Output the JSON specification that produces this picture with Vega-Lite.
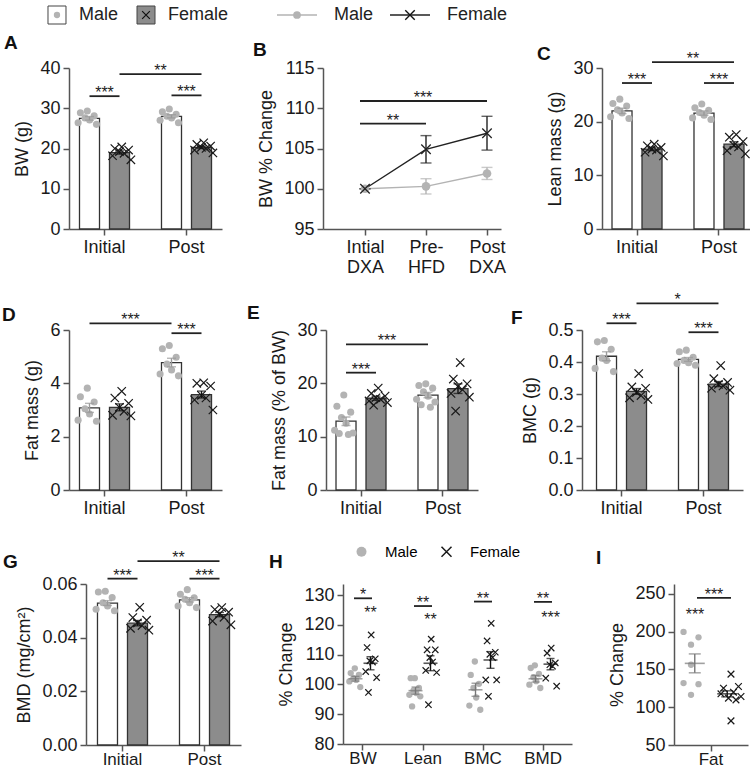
{
"$schema": "https://vega.github.io/schema/vega-lite/v6.json",
"padding": {"left": 1, "top": 4, "right": 0, "bottom": 0},
"background": "white",
"config": {
  "font": "Liberation Sans",
  "view": {"stroke": null},
  "axis": {"labelFontSize": 18, "titleFontSize": 18, "titleFontWeight": "normal", "labelColor": "#1a1a1a", "titleColor": "#1a1a1a", "domainColor": "#555555", "tickColor": "#555555", "domainWidth": 1.5, "tickWidth": 1.5, "tickSize": 6, "grid": false, "labelPadding": 3, "titlePadding": 8},
  "title": {"fontSize": 19, "fontWeight": "bold", "anchor": "start", "color": "#111111", "baseline": "alphabetic"}
},
"datasets": {
"bars": [
{"p":"A","t":"Initial","s":"Male","v":27.5,"e":0.45},
{"p":"A","t":"Initial","s":"Female","v":19.0,"e":0.4},
{"p":"A","t":"Post","s":"Male","v":28.0,"e":0.4},
{"p":"A","t":"Post","s":"Female","v":20.3,"e":0.3},
{"p":"C","t":"Initial","s":"Male","v":22.0,"e":0.5},
{"p":"C","t":"Initial","s":"Female","v":14.9,"e":0.3},
{"p":"C","t":"Post","s":"Male","v":21.6,"e":0.4},
{"p":"C","t":"Post","s":"Female","v":15.8,"e":0.45},
{"p":"D","t":"Initial","s":"Male","v":3.08,"e":0.17},
{"p":"D","t":"Initial","s":"Female","v":3.1,"e":0.13},
{"p":"D","t":"Post","s":"Male","v":4.78,"e":0.16},
{"p":"D","t":"Post","s":"Female","v":3.58,"e":0.13},
{"p":"E","t":"Initial","s":"Male","v":12.9,"e":0.8},
{"p":"E","t":"Initial","s":"Female","v":17.2,"e":0.4},
{"p":"E","t":"Post","s":"Male","v":17.8,"e":0.5},
{"p":"E","t":"Post","s":"Female","v":19.0,"e":0.9},
{"p":"F","t":"Initial","s":"Male","v":0.418,"e":0.014},
{"p":"F","t":"Initial","s":"Female","v":0.308,"e":0.009},
{"p":"F","t":"Post","s":"Male","v":0.408,"e":0.006},
{"p":"F","t":"Post","s":"Female","v":0.331,"e":0.008},
{"p":"G","t":"Initial","s":"Male","v":0.0529,"e":0.0009},
{"p":"G","t":"Initial","s":"Female","v":0.0454,"e":0.001},
{"p":"G","t":"Post","s":"Male","v":0.0541,"e":0.0008},
{"p":"G","t":"Post","s":"Female","v":0.0486,"e":0.0008},
{"p":"H","t":"BW","s":"Male","v":101.9,"e":0.8},
{"p":"H","t":"BW","s":"Female","v":107.1,"e":2.2},
{"p":"H","t":"Lean","s":"Male","v":97.9,"e":1.2},
{"p":"H","t":"Lean","s":"Female","v":107.1,"e":2.5},
{"p":"H","t":"BMC","s":"Male","v":98.2,"e":2.2},
{"p":"H","t":"BMC","s":"Female","v":108.2,"e":2.8},
{"p":"H","t":"BMD","s":"Male","v":101.9,"e":1.1},
{"p":"H","t":"BMD","s":"Female","v":106.8,"e":1.9},
{"p":"I","t":"Fat","s":"Male","v":158.0,"e":12.5},
{"p":"I","t":"Fat","s":"Female","v":117.7,"e":4.0}
],
"bl": [
{"t":"Intial DXA","s":"Male","v":100,"e":0},
{"t":"Pre-HFD","s":"Male","v":100.3,"e":0.95},
{"t":"Post DXA","s":"Male","v":101.9,"e":0.75},
{"t":"Intial DXA","s":"Female","v":100,"e":0},
{"t":"Pre-HFD","s":"Female","v":104.9,"e":1.7},
{"t":"Post DXA","s":"Female","v":106.9,"e":2.1}
],
"br": [
{"p":"A","k":"mf","t":"Initial","t2":"Initial","v":33.0,"lab":"***"},
{"p":"A","k":"mf","t":"Post","t2":"Post","v":33.2,"lab":"***"},
{"p":"A","k":"ff","t":"Initial","t2":"Post","v":38.5,"lab":"**"},
{"p":"C","k":"mf","t":"Initial","t2":"Initial","v":27.2,"lab":"***"},
{"p":"C","k":"mf","t":"Post","t2":"Post","v":27.2,"lab":"***"},
{"p":"C","k":"ff","t":"Initial","t2":"Post","v":31.1,"lab":"**"},
{"p":"D","k":"mm","t":"Initial","t2":"Post","v":6.25,"lab":"***"},
{"p":"D","k":"mf","t":"Post","t2":"Post","v":5.88,"lab":"***"},
{"p":"E","k":"mm","t":"Initial","t2":"Post","v":27.3,"lab":"***"},
{"p":"E","k":"mf","t":"Initial","t2":"Initial","v":22.0,"lab":"***"},
{"p":"F","k":"mf","t":"Initial","t2":"Initial","v":0.521,"lab":"***"},
{"p":"F","k":"ff","t":"Initial","t2":"Post","v":0.583,"lab":"*"},
{"p":"F","k":"mf","t":"Post","t2":"Post","v":0.493,"lab":"***"},
{"p":"G","k":"mf","t":"Initial","t2":"Initial","v":0.062,"lab":"***"},
{"p":"G","k":"ff","t":"Initial","t2":"Post","v":0.0685,"lab":"**"},
{"p":"G","k":"mf","t":"Post","t2":"Post","v":0.062,"lab":"***"},
{"p":"B","k":"b2","t":"Intial DXA","t2":"Pre-HFD","v":108.1,"lab":"**"},
{"p":"B","k":"b3","t":"Intial DXA","t2":"Post DXA","v":110.9,"lab":"***"},
{"p":"H","k":"mf","t":"BW","t2":"BW","v":128.9,"lab":"*"},
{"p":"H","k":"mf","t":"Lean","t2":"Lean","v":126.3,"lab":"**"},
{"p":"H","k":"mf","t":"BMC","t2":"BMC","v":127.8,"lab":"**"},
{"p":"H","k":"mf","t":"BMD","t2":"BMD","v":127.7,"lab":"**"},
{"p":"H","k":"fs","t":"BW","t2":"BW","v":125.3,"lab":"**"},
{"p":"H","k":"fs","t":"Lean","t2":"Lean","v":123.0,"lab":"**"},
{"p":"H","k":"fs","t":"BMD","t2":"BMD","v":123.6,"lab":"***"},
{"p":"I","k":"mf","t":"Fat","t2":"Fat","v":244.7,"lab":"***"},
{"p":"I","k":"ms","t":"Fat","t2":"Fat","v":227,"lab":"***"}
],
"pts": [
{"p":"A","t":"Initial","s":"Male","k":"M5","v":29.3},{"p":"A","t":"Initial","s":"Male","k":"M2","v":28.9},{"p":"A","t":"Initial","s":"Male","k":"M8","v":28.1},{"p":"A","t":"Initial","s":"Male","k":"M4","v":27.6},{"p":"A","t":"Initial","s":"Male","k":"M6","v":27.1},{"p":"A","t":"Initial","s":"Male","k":"M1","v":26.4},{"p":"A","t":"Initial","s":"Male","k":"M9","v":26.0},
{"p":"A","t":"Initial","s":"Female","k":"F5","v":20.4},{"p":"A","t":"Initial","s":"Female","k":"F2","v":20.0},{"p":"A","t":"Initial","s":"Female","k":"F8","v":19.6},{"p":"A","t":"Initial","s":"Female","k":"F4","v":19.2},{"p":"A","t":"Initial","s":"Female","k":"F6","v":18.8},{"p":"A","t":"Initial","s":"Female","k":"F1","v":18.2},{"p":"A","t":"Initial","s":"Female","k":"F9","v":17.2},
{"p":"A","t":"Post","s":"Male","k":"M5","v":29.8},{"p":"A","t":"Post","s":"Male","k":"M2","v":29.1},{"p":"A","t":"Post","s":"Male","k":"M8","v":28.5},{"p":"A","t":"Post","s":"Male","k":"M4","v":28.0},{"p":"A","t":"Post","s":"Male","k":"M6","v":27.6},{"p":"A","t":"Post","s":"Male","k":"M1","v":27.0},{"p":"A","t":"Post","s":"Male","k":"M9","v":26.4},
{"p":"A","t":"Post","s":"Female","k":"F5","v":21.4},{"p":"A","t":"Post","s":"Female","k":"F2","v":21.0},{"p":"A","t":"Post","s":"Female","k":"F8","v":20.6},{"p":"A","t":"Post","s":"Female","k":"F4","v":20.3},{"p":"A","t":"Post","s":"Female","k":"F6","v":20.0},{"p":"A","t":"Post","s":"Female","k":"F1","v":19.6},{"p":"A","t":"Post","s":"Female","k":"F9","v":18.9},
{"p":"C","t":"Initial","s":"Male","k":"M5","v":24.2},{"p":"C","t":"Initial","s":"Male","k":"M2","v":23.4},{"p":"C","t":"Initial","s":"Male","k":"M8","v":22.9},{"p":"C","t":"Initial","s":"Male","k":"M4","v":22.2},{"p":"C","t":"Initial","s":"Male","k":"M6","v":21.6},{"p":"C","t":"Initial","s":"Male","k":"M1","v":20.9},{"p":"C","t":"Initial","s":"Male","k":"M9","v":20.6},
{"p":"C","t":"Initial","s":"Female","k":"F5","v":15.8},{"p":"C","t":"Initial","s":"Female","k":"F2","v":15.5},{"p":"C","t":"Initial","s":"Female","k":"F8","v":15.2},{"p":"C","t":"Initial","s":"Female","k":"F4","v":14.9},{"p":"C","t":"Initial","s":"Female","k":"F6","v":14.7},{"p":"C","t":"Initial","s":"Female","k":"F1","v":14.3},{"p":"C","t":"Initial","s":"Female","k":"F9","v":13.6},
{"p":"C","t":"Post","s":"Male","k":"M5","v":23.3},{"p":"C","t":"Post","s":"Male","k":"M2","v":22.6},{"p":"C","t":"Post","s":"Male","k":"M8","v":22.1},{"p":"C","t":"Post","s":"Male","k":"M4","v":21.7},{"p":"C","t":"Post","s":"Male","k":"M6","v":21.2},{"p":"C","t":"Post","s":"Male","k":"M1","v":20.7},{"p":"C","t":"Post","s":"Male","k":"M9","v":20.4},
{"p":"C","t":"Post","s":"Female","k":"F5","v":17.6},{"p":"C","t":"Post","s":"Female","k":"F2","v":17.1},{"p":"C","t":"Post","s":"Female","k":"F8","v":16.3},{"p":"C","t":"Post","s":"Female","k":"F4","v":15.6},{"p":"C","t":"Post","s":"Female","k":"F6","v":15.3},{"p":"C","t":"Post","s":"Female","k":"F1","v":14.6},{"p":"C","t":"Post","s":"Female","k":"F9","v":14.0},
{"p":"D","t":"Initial","s":"Male","k":"M5","v":3.82},{"p":"D","t":"Initial","s":"Male","k":"M2","v":3.5},{"p":"D","t":"Initial","s":"Male","k":"M8","v":3.3},{"p":"D","t":"Initial","s":"Male","k":"M4","v":3.05},{"p":"D","t":"Initial","s":"Male","k":"M6","v":2.85},{"p":"D","t":"Initial","s":"Male","k":"M1","v":2.62},{"p":"D","t":"Initial","s":"Male","k":"M9","v":2.58},
{"p":"D","t":"Initial","s":"Female","k":"F5","v":3.7},{"p":"D","t":"Initial","s":"Female","k":"F2","v":3.45},{"p":"D","t":"Initial","s":"Female","k":"F8","v":3.25},{"p":"D","t":"Initial","s":"Female","k":"F4","v":3.1},{"p":"D","t":"Initial","s":"Female","k":"F6","v":2.95},{"p":"D","t":"Initial","s":"Female","k":"F1","v":2.8},{"p":"D","t":"Initial","s":"Female","k":"F9","v":2.78},
{"p":"D","t":"Post","s":"Male","k":"M5","v":5.42},{"p":"D","t":"Post","s":"Male","k":"M2","v":5.3},{"p":"D","t":"Post","s":"Male","k":"M8","v":4.98},{"p":"D","t":"Post","s":"Male","k":"M4","v":4.72},{"p":"D","t":"Post","s":"Male","k":"M6","v":4.5},{"p":"D","t":"Post","s":"Male","k":"M1","v":4.35},{"p":"D","t":"Post","s":"Male","k":"M9","v":4.28},
{"p":"D","t":"Post","s":"Female","k":"F5","v":4.02},{"p":"D","t":"Post","s":"Female","k":"F2","v":4.0},{"p":"D","t":"Post","s":"Female","k":"F8","v":3.9},{"p":"D","t":"Post","s":"Female","k":"F4","v":3.55},{"p":"D","t":"Post","s":"Female","k":"F6","v":3.45},{"p":"D","t":"Post","s":"Female","k":"F1","v":3.38},{"p":"D","t":"Post","s":"Female","k":"F9","v":3.0},
{"p":"E","t":"Initial","s":"Male","k":"M5","v":17.8},{"p":"E","t":"Initial","s":"Male","k":"M2","v":15.7},{"p":"E","t":"Initial","s":"Male","k":"M8","v":14.6},{"p":"E","t":"Initial","s":"Male","k":"M4","v":13.6},{"p":"E","t":"Initial","s":"Male","k":"M6","v":12.5},{"p":"E","t":"Initial","s":"Male","k":"M1","v":11.2},{"p":"E","t":"Initial","s":"Male","k":"M9","v":10.7},{"p":"E","t":"Initial","s":"Male","k":"M3","v":10.6},{"p":"E","t":"Initial","s":"Male","k":"M7","v":10.4},
{"p":"E","t":"Initial","s":"Female","k":"F5","v":19.1},{"p":"E","t":"Initial","s":"Female","k":"F2","v":18.1},{"p":"E","t":"Initial","s":"Female","k":"F8","v":17.6},{"p":"E","t":"Initial","s":"Female","k":"F4","v":17.3},{"p":"E","t":"Initial","s":"Female","k":"F6","v":17.0},{"p":"E","t":"Initial","s":"Female","k":"F1","v":16.7},{"p":"E","t":"Initial","s":"Female","k":"F9","v":16.4},{"p":"E","t":"Initial","s":"Female","k":"F3","v":15.9},
{"p":"E","t":"Post","s":"Male","k":"M5","v":19.9},{"p":"E","t":"Post","s":"Male","k":"M2","v":19.6},{"p":"E","t":"Post","s":"Male","k":"M8","v":19.1},{"p":"E","t":"Post","s":"Male","k":"M4","v":18.4},{"p":"E","t":"Post","s":"Male","k":"M6","v":17.6},{"p":"E","t":"Post","s":"Male","k":"M1","v":17.0},{"p":"E","t":"Post","s":"Male","k":"M9","v":16.5},{"p":"E","t":"Post","s":"Male","k":"M3","v":16.0},{"p":"E","t":"Post","s":"Male","k":"M7","v":15.5},
{"p":"E","t":"Post","s":"Female","k":"F5","v":23.9},{"p":"E","t":"Post","s":"Female","k":"F2","v":20.8},{"p":"E","t":"Post","s":"Female","k":"F8","v":19.9},{"p":"E","t":"Post","s":"Female","k":"F4","v":19.4},{"p":"E","t":"Post","s":"Female","k":"F6","v":18.8},{"p":"E","t":"Post","s":"Female","k":"F1","v":18.1},{"p":"E","t":"Post","s":"Female","k":"F9","v":17.4},{"p":"E","t":"Post","s":"Female","k":"F3","v":14.8},
{"p":"F","t":"Initial","s":"Male","k":"M5","v":0.467},{"p":"F","t":"Initial","s":"Male","k":"M2","v":0.463},{"p":"F","t":"Initial","s":"Male","k":"M8","v":0.440},{"p":"F","t":"Initial","s":"Male","k":"M4","v":0.412},{"p":"F","t":"Initial","s":"Male","k":"M6","v":0.405},{"p":"F","t":"Initial","s":"Male","k":"M1","v":0.380},{"p":"F","t":"Initial","s":"Male","k":"M9","v":0.370},
{"p":"F","t":"Initial","s":"Female","k":"F5","v":0.364},{"p":"F","t":"Initial","s":"Female","k":"F2","v":0.322},{"p":"F","t":"Initial","s":"Female","k":"F8","v":0.318},{"p":"F","t":"Initial","s":"Female","k":"F4","v":0.305},{"p":"F","t":"Initial","s":"Female","k":"F6","v":0.295},{"p":"F","t":"Initial","s":"Female","k":"F1","v":0.288},{"p":"F","t":"Initial","s":"Female","k":"F9","v":0.283},
{"p":"F","t":"Post","s":"Male","k":"M5","v":0.437},{"p":"F","t":"Post","s":"Male","k":"M2","v":0.432},{"p":"F","t":"Post","s":"Male","k":"M8","v":0.415},{"p":"F","t":"Post","s":"Male","k":"M4","v":0.405},{"p":"F","t":"Post","s":"Male","k":"M6","v":0.398},{"p":"F","t":"Post","s":"Male","k":"M1","v":0.395},{"p":"F","t":"Post","s":"Male","k":"M9","v":0.390},
{"p":"F","t":"Post","s":"Female","k":"F5","v":0.389},{"p":"F","t":"Post","s":"Female","k":"F2","v":0.348},{"p":"F","t":"Post","s":"Female","k":"F8","v":0.336},{"p":"F","t":"Post","s":"Female","k":"F4","v":0.330},{"p":"F","t":"Post","s":"Female","k":"F6","v":0.325},{"p":"F","t":"Post","s":"Female","k":"F1","v":0.318},{"p":"F","t":"Post","s":"Female","k":"F9","v":0.312},
{"p":"G","t":"Initial","s":"Male","k":"M5","v":0.0573},{"p":"G","t":"Initial","s":"Male","k":"M2","v":0.0570},{"p":"G","t":"Initial","s":"Male","k":"M8","v":0.0550},{"p":"G","t":"Initial","s":"Male","k":"M4","v":0.0530},{"p":"G","t":"Initial","s":"Male","k":"M6","v":0.0518},{"p":"G","t":"Initial","s":"Male","k":"M1","v":0.0506},{"p":"G","t":"Initial","s":"Male","k":"M9","v":0.0500},
{"p":"G","t":"Initial","s":"Female","k":"F5","v":0.0513},{"p":"G","t":"Initial","s":"Female","k":"F2","v":0.0475},{"p":"G","t":"Initial","s":"Female","k":"F8","v":0.0465},{"p":"G","t":"Initial","s":"Female","k":"F4","v":0.0455},{"p":"G","t":"Initial","s":"Female","k":"F6","v":0.0445},{"p":"G","t":"Initial","s":"Female","k":"F1","v":0.0435},{"p":"G","t":"Initial","s":"Female","k":"F9","v":0.0428},
{"p":"G","t":"Post","s":"Male","k":"M5","v":0.0579},{"p":"G","t":"Post","s":"Male","k":"M2","v":0.0562},{"p":"G","t":"Post","s":"Male","k":"M8","v":0.0549},{"p":"G","t":"Post","s":"Male","k":"M4","v":0.0543},{"p":"G","t":"Post","s":"Male","k":"M6","v":0.0530},{"p":"G","t":"Post","s":"Male","k":"M1","v":0.0518},{"p":"G","t":"Post","s":"Male","k":"M9","v":0.0512},
{"p":"G","t":"Post","s":"Female","k":"F5","v":0.0512},{"p":"G","t":"Post","s":"Female","k":"F2","v":0.0505},{"p":"G","t":"Post","s":"Female","k":"F8","v":0.0495},{"p":"G","t":"Post","s":"Female","k":"F4","v":0.0488},{"p":"G","t":"Post","s":"Female","k":"F6","v":0.0476},{"p":"G","t":"Post","s":"Female","k":"F1","v":0.0462},{"p":"G","t":"Post","s":"Female","k":"F9","v":0.0448},
{"p":"H","t":"BW","s":"Male","k":"M5","v":105.4},{"p":"H","t":"BW","s":"Male","k":"M2","v":103.8},{"p":"H","t":"BW","s":"Male","k":"M8","v":103.2},{"p":"H","t":"BW","s":"Male","k":"M4","v":102.1},{"p":"H","t":"BW","s":"Male","k":"M6","v":101.5},{"p":"H","t":"BW","s":"Male","k":"M1","v":101.0},{"p":"H","t":"BW","s":"Male","k":"M9","v":99.1},
{"p":"H","t":"BW","s":"Female","k":"F5","v":116.6},{"p":"H","t":"BW","s":"Female","k":"F2","v":112.4},{"p":"H","t":"BW","s":"Female","k":"F8","v":108.6},{"p":"H","t":"BW","s":"Female","k":"F4","v":107.9},{"p":"H","t":"BW","s":"Female","k":"F6","v":107.5},{"p":"H","t":"BW","s":"Female","k":"F1","v":104.3},{"p":"H","t":"BW","s":"Female","k":"F9","v":102.3},{"p":"H","t":"BW","s":"Female","k":"F3","v":97.3},
{"p":"H","t":"Lean","s":"Male","k":"M5","v":102.1},{"p":"H","t":"Lean","s":"Male","k":"M2","v":102.1},{"p":"H","t":"Lean","s":"Male","k":"M8","v":98.8},{"p":"H","t":"Lean","s":"Male","k":"M4","v":97.9},{"p":"H","t":"Lean","s":"Male","k":"M6","v":97.1},{"p":"H","t":"Lean","s":"Male","k":"M1","v":96.5},{"p":"H","t":"Lean","s":"Male","k":"M9","v":96.0},{"p":"H","t":"Lean","s":"Male","k":"M3","v":92.6},
{"p":"H","t":"Lean","s":"Female","k":"F5","v":115.2},{"p":"H","t":"Lean","s":"Female","k":"F2","v":111.6},{"p":"H","t":"Lean","s":"Female","k":"F8","v":111.6},{"p":"H","t":"Lean","s":"Female","k":"F4","v":109.0},{"p":"H","t":"Lean","s":"Female","k":"F6","v":107.5},{"p":"H","t":"Lean","s":"Female","k":"F1","v":104.7},{"p":"H","t":"Lean","s":"Female","k":"F9","v":104.0},{"p":"H","t":"Lean","s":"Female","k":"F3","v":93.2},
{"p":"H","t":"BMC","s":"Male","k":"M5","v":107.7},{"p":"H","t":"BMC","s":"Male","k":"M2","v":103.2},{"p":"H","t":"BMC","s":"Male","k":"M8","v":100.2},{"p":"H","t":"BMC","s":"Male","k":"M4","v":98.8},{"p":"H","t":"BMC","s":"Male","k":"M6","v":95.6},{"p":"H","t":"BMC","s":"Male","k":"M1","v":92.9},{"p":"H","t":"BMC","s":"Male","k":"M9","v":91.5},
{"p":"H","t":"BMC","s":"Female","k":"F5","v":120.5},{"p":"H","t":"BMC","s":"Female","k":"F2","v":114.6},{"p":"H","t":"BMC","s":"Female","k":"F8","v":110.8},{"p":"H","t":"BMC","s":"Female","k":"F4","v":110.1},{"p":"H","t":"BMC","s":"Female","k":"F6","v":109.0},{"p":"H","t":"BMC","s":"Female","k":"F1","v":101.5},{"p":"H","t":"BMC","s":"Female","k":"F9","v":101.5},{"p":"H","t":"BMC","s":"Female","k":"F3","v":96.0},
{"p":"H","t":"BMD","s":"Male","k":"M5","v":106.4},{"p":"H","t":"BMD","s":"Male","k":"M2","v":105.5},{"p":"H","t":"BMD","s":"Male","k":"M8","v":103.5},{"p":"H","t":"BMD","s":"Male","k":"M4","v":102.4},{"p":"H","t":"BMD","s":"Male","k":"M6","v":101.1},{"p":"H","t":"BMD","s":"Male","k":"M1","v":99.9},{"p":"H","t":"BMD","s":"Male","k":"M9","v":98.8},
{"p":"H","t":"BMD","s":"Female","k":"F5","v":112.2},{"p":"H","t":"BMD","s":"Female","k":"F2","v":110.5},{"p":"H","t":"BMD","s":"Female","k":"F8","v":107.2},{"p":"H","t":"BMD","s":"Female","k":"F4","v":106.6},{"p":"H","t":"BMD","s":"Female","k":"F6","v":106.1},{"p":"H","t":"BMD","s":"Female","k":"F1","v":102.1},{"p":"H","t":"BMD","s":"Female","k":"F9","v":99.4},
{"p":"I","t":"Fat","s":"Male","k":"M2","v":199.6},{"p":"I","t":"Fat","s":"Male","k":"M8","v":192.5},{"p":"I","t":"Fat","s":"Male","k":"M5","v":182.7},{"p":"I","t":"Fat","s":"Male","k":"M5","v":156.2},{"p":"I","t":"Fat","s":"Male","k":"M2","v":131.9},{"p":"I","t":"Fat","s":"Male","k":"M8","v":130.5},{"p":"I","t":"Fat","s":"Male","k":"M5","v":116.4},
{"p":"I","t":"Fat","s":"Female","k":"F5","v":143.8},{"p":"I","t":"Fat","s":"Female","k":"F8","v":127.4},{"p":"I","t":"Fat","s":"Female","k":"F2","v":125.2},{"p":"I","t":"Fat","s":"Female","k":"F6","v":119.9},{"p":"I","t":"Fat","s":"Female","k":"F1","v":117.7},{"p":"I","t":"Fat","s":"Female","k":"F9","v":114.2},{"p":"I","t":"Fat","s":"Female","k":"F4","v":112.0},{"p":"I","t":"Fat","s":"Female","k":"F7","v":109.7},{"p":"I","t":"Fat","s":"Female","k":"F5","v":81.9}
]
},
"resolve": {"scale": {"color": "independent", "fill": "independent", "stroke": "independent", "shape": "independent", "xOffset": "independent"}},
"spacing": 8,
"vconcat": [
{
 "resolve": {"scale": {"color": "independent", "fill": "independent", "stroke": "independent", "shape": "independent", "xOffset": "independent"}},
 "hconcat": [
  {
   "width": 175, "height": 20,
   "data": {"values": [{"s":"Male"},{"s":"Female"}]},
   "encoding": {"x": {"field":"s","type":"nominal","scale":{"type":"point","domain":["Male","Female"],"padding":0.483},"axis":null}},
   "layer": [
    {"mark":{"type":"point","shape":"square","filled":true,"size":324,"stroke":"#444444","strokeWidth":1,"opacity":1},"encoding":{"fill":{"field":"s","type":"nominal","scale":{"domain":["Male","Female"],"range":["#ffffff","#8c8c8c"]},"legend":null}}},
    {"transform":[{"filter":"datum.s=='Male'"}],"mark":{"type":"point","shape":"circle","filled":true,"size":40,"color":"#b3b3b3","opacity":1}},
    {"transform":[{"filter":"datum.s=='Female'"}],"mark":{"type":"point","shape":"M-1,-1L1,1M-1,1L1,-1","filled":false,"size":60,"color":"#111111","strokeWidth":1.2,"opacity":1}},
    {"mark":{"type":"text","align":"left","dx":22,"fontSize":18,"color":"#222222"},"encoding":{"text":{"field":"s"}}}
   ]
  },
  {
   "width": 226, "height": 20,
   "data": {"values": [{"s":"Male"},{"s":"Female"}]},
   "encoding": {"x": {"field":"s","type":"nominal","scale":{"type":"point","domain":["Male","Female"],"padding":0.5},"axis":null}},
   "layer": [
    {"mark":{"type":"rule","xOffset":-20,"x2Offset":20,"strokeWidth":1.5},"encoding":{"x2":{"field":"s"},"color":{"field":"s","type":"nominal","scale":{"domain":["Male","Female"],"range":["#b3b3b3","#222222"]},"legend":null}}},
    {"transform":[{"filter":"datum.s=='Male'"}],"mark":{"type":"point","shape":"circle","filled":true,"size":60,"color":"#b3b3b3","opacity":1}},
    {"transform":[{"filter":"datum.s=='Female'"}],"mark":{"type":"point","shape":"M-1,-1L1,1M-1,1L1,-1","filled":false,"size":90,"color":"#111111","strokeWidth":1.4,"opacity":1}},
    {"mark":{"type":"text","align":"left","dx":37,"fontSize":18,"color":"#222222"},"encoding":{"text":{"field":"s"}}}
   ]
  }
 ],
 "spacing": 51.5,
 "bounds": "flush"
},
{
 "spacing": 16,
 "resolve": {"scale": {"color": "independent", "fill": "independent", "stroke": "independent", "shape": "independent", "xOffset": "independent"}},
 "vconcat": [
 {
  "resolve": {"scale": {"color": "independent", "fill": "independent", "stroke": "independent", "shape": "independent", "xOffset": "independent"}},
  "spacing": 54,
  "bounds": "flush",
  "hconcat": [
  {"width": 1, "height": 1, "data": {"values": [{}]}, "mark": {"type": "point", "opacity": 0}},
  {
  "resolve": {"scale": {"color": "independent", "fill": "independent", "stroke": "independent", "shape": "independent", "xOffset": "independent"}},
  "spacing": 101,
  "bounds": "flush",
  "hconcat": [
  {
   "width": 153, "height": 161,
   "title": {"text": "A", "offset": 6, "dx": -10},
   "resolve": {"scale": {"xOffset": "independent"}},
   "encoding": {
    "x": {"field":"t","type":"nominal","scale":{"domain":["Initial","Post"],"paddingInner":0.3,"paddingOuter":0.083},"axis":{"title":null,"labelAngle":0}},
    "y": {"field":"v","type":"quantitative","scale":{"domain":[0,40],"nice":false},"axis":{"title":"BW (g)","values":[0,10,20,30,40]}}
   },
   "layer": [
    {"data":{"name":"bars"},"transform":[{"filter":"datum.p=='A'"}],"mark":{"type":"bar","stroke":"#333333","strokeWidth":1.3},"encoding":{"xOffset":{"field":"s","type":"nominal","scale":{"domain":["Male","Female"],"paddingInner":0.333,"paddingOuter":0.123}},"fill":{"field":"s","type":"nominal","scale":{"domain":["Male","Female"],"range":["#ffffff","#8c8c8c"]},"legend":null}}},
    {"data":{"name":"pts"},"transform":[{"filter":"datum.p=='A' && datum.s=='Male'"}],"mark":{"type":"point","shape":"circle","filled":true,"size":50,"color":"#b3b3b3","opacity":1},"encoding":{"xOffset":{"field":"k","type":"nominal","scale":{"type":"point","domain":["M1","M2","M3","M4","M5","M6","M7","M8","M9","g1","g2","g3","g4","g5","g6","F1","F2","F3","F4","F5","F6","F7","F8","F9"],"padding":2.85}}}},
    {"data":{"name":"pts"},"transform":[{"filter":"datum.p=='A' && datum.s=='Female'"}],"mark":{"type":"point","shape":"M-1,-1L1,1M-1,1L1,-1","filled":false,"size":70,"color":"#1a1a1a","strokeWidth":1.2,"opacity":1},"encoding":{"xOffset":{"field":"k","type":"nominal","scale":{"type":"point","domain":["M1","M2","M3","M4","M5","M6","M7","M8","M9","g1","g2","g3","g4","g5","g6","F1","F2","F3","F4","F5","F6","F7","F8","F9"],"padding":2.85}}}},
    {"data":{"name":"bars"},"transform":[{"filter":"datum.p=='A'"}],"mark":{"type":"errorbar","ticks":{"size":9},"thickness":1.4},"encoding":{"xOffset":{"field":"s","type":"nominal","scale":{"domain":["Male","Female"],"paddingInner":0.333,"paddingOuter":0.123}},"yError":{"field":"e"},"color":{"field":"s","type":"nominal","scale":{"domain":["Male","Female"],"range":["#999999","#111111"]},"legend":null}}},
    {"data":{"name":"br"},"transform":[{"filter":"datum.p=='A' && datum.k=='mf'"}],"mark":{"type":"rule","xOffset":-15,"x2Offset":15,"strokeWidth":1.8,"color":"#222222"},"encoding":{"x2":{"field":"t2"}}},
    {"data":{"name":"br"},"transform":[{"filter":"datum.p=='A' && datum.k=='mf'"}],"mark":{"type":"text","fontSize":16,"baseline":"alphabetic","dy":2,"color":"#222222"},"encoding":{"text":{"field":"lab"}}},
    {"data":{"name":"br"},"transform":[{"filter":"datum.p=='A' && datum.k=='ff'"}],"mark":{"type":"rule","xOffset":15,"x2Offset":15,"strokeWidth":1.8,"color":"#222222"},"encoding":{"x2":{"field":"t2"}}},
    {"data":{"name":"br"},"transform":[{"filter":"datum.p=='A' && datum.k=='ff'"}],"mark":{"type":"text","fontSize":16,"baseline":"alphabetic","dy":2,"xOffset":56,"color":"#222222"},"encoding":{"text":{"field":"lab"}}}
   ]
  },
  {
   "width": 178, "height": 161,
   "title": {"text": "B", "offset": -1, "dx": -5},
   "encoding": {
    "x": {"field":"t","type":"nominal","scale":{"type":"point","domain":["Intial DXA","Pre-HFD","Post DXA"],"padding":0.459,"align":0.75},"axis":{"title":null,"labelAngle":0,"labelExpr":"datum.label == 'Pre-HFD' ? ['Pre-','HFD'] : split(datum.label, ' ')","labelLineHeight":20}},
    "y": {"field":"v","type":"quantitative","scale":{"domain":[95,115],"nice":false,"zero":false},"axis":{"title":"BW % Change","values":[95,100,105,110,115]}}
   },
   "layer": [
    {"data":{"name":"bl"},"mark":{"type":"line","strokeWidth":1.4},"encoding":{"order":{"value":null},"color":{"field":"s","type":"nominal","scale":{"domain":["Male","Female"],"range":["#b3b3b3","#222222"]},"legend":null}}},
    {"data":{"name":"bl"},"mark":{"type":"errorbar","ticks":{"size":11},"thickness":1.4},"encoding":{"yError":{"field":"e"},"color":{"field":"s","type":"nominal","scale":{"domain":["Male","Female"],"range":["#b3b3b3","#222222"]},"legend":null}}},
    {"data":{"name":"bl"},"transform":[{"filter":"datum.s=='Male'"}],"mark":{"type":"point","shape":"circle","filled":true,"size":75,"color":"#b3b3b3","opacity":1}},
    {"data":{"name":"bl"},"transform":[{"filter":"datum.s=='Female'"}],"mark":{"type":"point","shape":"M-1,-1L1,1M-1,1L1,-1","filled":false,"size":90,"color":"#222222","strokeWidth":1.3,"opacity":1}},
    {"data":{"name":"br"},"transform":[{"filter":"datum.p=='B'"}],"mark":{"type":"rule","xOffset":-5,"strokeWidth":1.8,"color":"#222222"},"encoding":{"x2":{"field":"t2"}}},
    {"data":{"name":"br"},"transform":[{"filter":"datum.p=='B' && datum.k=='b2'"}],"mark":{"type":"text","fontSize":16,"baseline":"alphabetic","dy":2,"xOffset":28,"color":"#222222"},"encoding":{"text":{"field":"lab"}}},
    {"data":{"name":"br"},"transform":[{"filter":"datum.p=='B' && datum.k=='b3'"}],"mark":{"type":"text","fontSize":16,"baseline":"alphabetic","dy":2,"xOffset":58,"color":"#222222"},"encoding":{"text":{"field":"lab"}}}
   ]
  },
  {
   "width": 152, "height": 161,
   "title": {"text": "C", "offset": -13, "dx": -10},
   "resolve": {"scale": {"xOffset": "independent"}},
   "encoding": {
    "x": {"field":"t","type":"nominal","scale":{"domain":["Initial","Post"],"paddingInner":0.3,"paddingOuter":0.077},"axis":{"title":null,"labelAngle":0}},
    "y": {"field":"v","type":"quantitative","scale":{"domain":[0,30],"nice":false},"axis":{"title":"Lean mass (g)","values":[0,10,20,30]}}
   },
   "layer": [
    {"data":{"name":"bars"},"transform":[{"filter":"datum.p=='C'"}],"mark":{"type":"bar","stroke":"#333333","strokeWidth":1.3},"encoding":{"xOffset":{"field":"s","type":"nominal","scale":{"domain":["Male","Female"],"paddingInner":0.333,"paddingOuter":0.123}},"fill":{"field":"s","type":"nominal","scale":{"domain":["Male","Female"],"range":["#ffffff","#8c8c8c"]},"legend":null}}},
    {"data":{"name":"pts"},"transform":[{"filter":"datum.p=='C' && datum.s=='Male'"}],"mark":{"type":"point","shape":"circle","filled":true,"size":50,"color":"#b3b3b3","opacity":1},"encoding":{"xOffset":{"field":"k","type":"nominal","scale":{"type":"point","domain":["M1","M2","M3","M4","M5","M6","M7","M8","M9","g1","g2","g3","g4","g5","g6","F1","F2","F3","F4","F5","F6","F7","F8","F9"],"padding":2.85}}}},
    {"data":{"name":"pts"},"transform":[{"filter":"datum.p=='C' && datum.s=='Female'"}],"mark":{"type":"point","shape":"M-1,-1L1,1M-1,1L1,-1","filled":false,"size":70,"color":"#1a1a1a","strokeWidth":1.2,"opacity":1},"encoding":{"xOffset":{"field":"k","type":"nominal","scale":{"type":"point","domain":["M1","M2","M3","M4","M5","M6","M7","M8","M9","g1","g2","g3","g4","g5","g6","F1","F2","F3","F4","F5","F6","F7","F8","F9"],"padding":2.85}}}},
    {"data":{"name":"bars"},"transform":[{"filter":"datum.p=='C'"}],"mark":{"type":"errorbar","ticks":{"size":9},"thickness":1.4},"encoding":{"xOffset":{"field":"s","type":"nominal","scale":{"domain":["Male","Female"],"paddingInner":0.333,"paddingOuter":0.123}},"yError":{"field":"e"},"color":{"field":"s","type":"nominal","scale":{"domain":["Male","Female"],"range":["#999999","#111111"]},"legend":null}}},
    {"data":{"name":"br"},"transform":[{"filter":"datum.p=='C' && datum.k=='mf'"}],"mark":{"type":"rule","xOffset":-15,"x2Offset":15,"strokeWidth":1.8,"color":"#222222"},"encoding":{"x2":{"field":"t2"}}},
    {"data":{"name":"br"},"transform":[{"filter":"datum.p=='C' && datum.k=='mf'"}],"mark":{"type":"text","fontSize":16,"baseline":"alphabetic","dy":2,"color":"#222222"},"encoding":{"text":{"field":"lab"}}},
    {"data":{"name":"br"},"transform":[{"filter":"datum.p=='C' && datum.k=='ff'"}],"mark":{"type":"rule","xOffset":15,"x2Offset":15,"strokeWidth":1.8,"color":"#222222"},"encoding":{"x2":{"field":"t2"}}},
    {"data":{"name":"br"},"transform":[{"filter":"datum.p=='C' && datum.k=='ff'"}],"mark":{"type":"text","fontSize":16,"baseline":"alphabetic","dy":2,"xOffset":56,"color":"#222222"},"encoding":{"text":{"field":"lab"}}}
   ]
  }
  ]
  }
  ]
 },
 {
  "spacing": 27,
  "resolve": {"scale": {"color": "independent", "fill": "independent", "stroke": "independent", "shape": "independent", "xOffset": "independent"}},
  "vconcat": [
  {
   "resolve": {"scale": {"color": "independent", "fill": "independent", "stroke": "independent", "shape": "independent", "xOffset": "independent"}},
   "spacing": 54,
   "bounds": "flush",
   "hconcat": [
   {"width": 1, "height": 1, "data": {"values": [{}]}, "mark": {"type": "point", "opacity": 0}},
   {
   "resolve": {"scale": {"color": "independent", "fill": "independent", "stroke": "independent", "shape": "independent", "xOffset": "independent"}},
   "spacing": 104,
   "bounds": "flush",
   "hconcat": [
   {
    "width": 153, "height": 160,
    "title": {"text": "D", "offset": -13, "dx": -22},
    "resolve": {"scale": {"xOffset": "independent"}},
    "encoding": {
     "x": {"field":"t","type":"nominal","scale":{"domain":["Initial","Post"],"paddingInner":0.3,"paddingOuter":0.083},"axis":{"title":null,"labelAngle":0}},
     "y": {"field":"v","type":"quantitative","scale":{"domain":[0,6],"nice":false},"axis":{"title":"Fat mass (g)","values":[0,2,4,6]}}
    },
    "layer": [
     {"data":{"name":"bars"},"transform":[{"filter":"datum.p=='D'"}],"mark":{"type":"bar","stroke":"#333333","strokeWidth":1.3},"encoding":{"xOffset":{"field":"s","type":"nominal","scale":{"domain":["Male","Female"],"paddingInner":0.333,"paddingOuter":0.123}},"fill":{"field":"s","type":"nominal","scale":{"domain":["Male","Female"],"range":["#ffffff","#8c8c8c"]},"legend":null}}},
     {"data":{"name":"pts"},"transform":[{"filter":"datum.p=='D' && datum.s=='Male'"}],"mark":{"type":"point","shape":"circle","filled":true,"size":50,"color":"#b3b3b3","opacity":1},"encoding":{"xOffset":{"field":"k","type":"nominal","scale":{"type":"point","domain":["M1","M2","M3","M4","M5","M6","M7","M8","M9","g1","g2","g3","g4","g5","g6","F1","F2","F3","F4","F5","F6","F7","F8","F9"],"padding":2.85}}}},
     {"data":{"name":"pts"},"transform":[{"filter":"datum.p=='D' && datum.s=='Female'"}],"mark":{"type":"point","shape":"M-1,-1L1,1M-1,1L1,-1","filled":false,"size":70,"color":"#1a1a1a","strokeWidth":1.2,"opacity":1},"encoding":{"xOffset":{"field":"k","type":"nominal","scale":{"type":"point","domain":["M1","M2","M3","M4","M5","M6","M7","M8","M9","g1","g2","g3","g4","g5","g6","F1","F2","F3","F4","F5","F6","F7","F8","F9"],"padding":2.85}}}},
     {"data":{"name":"bars"},"transform":[{"filter":"datum.p=='D'"}],"mark":{"type":"errorbar","ticks":{"size":9},"thickness":1.4},"encoding":{"xOffset":{"field":"s","type":"nominal","scale":{"domain":["Male","Female"],"paddingInner":0.333,"paddingOuter":0.123}},"yError":{"field":"e"},"color":{"field":"s","type":"nominal","scale":{"domain":["Male","Female"],"range":["#999999","#111111"]},"legend":null}}},
     {"data":{"name":"br"},"transform":[{"filter":"datum.p=='D' && datum.k=='mf'"}],"mark":{"type":"rule","xOffset":-15,"x2Offset":15,"strokeWidth":1.8,"color":"#222222"},"encoding":{"x2":{"field":"t2"}}},
     {"data":{"name":"br"},"transform":[{"filter":"datum.p=='D' && datum.k=='mf'"}],"mark":{"type":"text","fontSize":16,"baseline":"alphabetic","dy":2,"color":"#222222"},"encoding":{"text":{"field":"lab"}}},
     {"data":{"name":"br"},"transform":[{"filter":"datum.p=='D' && datum.k=='mm'"}],"mark":{"type":"rule","xOffset":-15,"x2Offset":-15,"strokeWidth":1.8,"color":"#222222"},"encoding":{"x2":{"field":"t2"}}},
     {"data":{"name":"br"},"transform":[{"filter":"datum.p=='D' && datum.k=='mm'"}],"mark":{"type":"text","fontSize":16,"baseline":"alphabetic","dy":2,"xOffset":26,"color":"#222222"},"encoding":{"text":{"field":"lab"}}}
    ]
   },
   {
    "width": 152, "height": 160,
    "title": {"text": "E", "offset": -2, "dx": -24},
    "resolve": {"scale": {"xOffset": "independent"}},
    "encoding": {
     "x": {"field":"t","type":"nominal","scale":{"domain":["Initial","Post"],"paddingInner":0.3,"paddingOuter":0.077},"axis":{"title":null,"labelAngle":0}},
     "y": {"field":"v","type":"quantitative","scale":{"domain":[0,30],"nice":false},"axis":{"title":"Fat mass (% of BW)","values":[0,10,20,30]}}
    },
    "layer": [
     {"data":{"name":"bars"},"transform":[{"filter":"datum.p=='E'"}],"mark":{"type":"bar","stroke":"#333333","strokeWidth":1.3},"encoding":{"xOffset":{"field":"s","type":"nominal","scale":{"domain":["Male","Female"],"paddingInner":0.333,"paddingOuter":0.123}},"fill":{"field":"s","type":"nominal","scale":{"domain":["Male","Female"],"range":["#ffffff","#8c8c8c"]},"legend":null}}},
     {"data":{"name":"pts"},"transform":[{"filter":"datum.p=='E' && datum.s=='Male'"}],"mark":{"type":"point","shape":"circle","filled":true,"size":50,"color":"#b3b3b3","opacity":1},"encoding":{"xOffset":{"field":"k","type":"nominal","scale":{"type":"point","domain":["M1","M2","M3","M4","M5","M6","M7","M8","M9","g1","g2","g3","g4","g5","g6","F1","F2","F3","F4","F5","F6","F7","F8","F9"],"padding":2.85}}}},
     {"data":{"name":"pts"},"transform":[{"filter":"datum.p=='E' && datum.s=='Female'"}],"mark":{"type":"point","shape":"M-1,-1L1,1M-1,1L1,-1","filled":false,"size":70,"color":"#1a1a1a","strokeWidth":1.2,"opacity":1},"encoding":{"xOffset":{"field":"k","type":"nominal","scale":{"type":"point","domain":["M1","M2","M3","M4","M5","M6","M7","M8","M9","g1","g2","g3","g4","g5","g6","F1","F2","F3","F4","F5","F6","F7","F8","F9"],"padding":2.85}}}},
     {"data":{"name":"bars"},"transform":[{"filter":"datum.p=='E'"}],"mark":{"type":"errorbar","ticks":{"size":9},"thickness":1.4},"encoding":{"xOffset":{"field":"s","type":"nominal","scale":{"domain":["Male","Female"],"paddingInner":0.333,"paddingOuter":0.123}},"yError":{"field":"e"},"color":{"field":"s","type":"nominal","scale":{"domain":["Male","Female"],"range":["#999999","#111111"]},"legend":null}}},
     {"data":{"name":"br"},"transform":[{"filter":"datum.p=='E' && datum.k=='mf'"}],"mark":{"type":"rule","xOffset":-15,"x2Offset":15,"strokeWidth":1.8,"color":"#222222"},"encoding":{"x2":{"field":"t2"}}},
     {"data":{"name":"br"},"transform":[{"filter":"datum.p=='E' && datum.k=='mf'"}],"mark":{"type":"text","fontSize":16,"baseline":"alphabetic","dy":2,"color":"#222222"},"encoding":{"text":{"field":"lab"}}},
     {"data":{"name":"br"},"transform":[{"filter":"datum.p=='E' && datum.k=='mm'"}],"mark":{"type":"rule","xOffset":-15,"x2Offset":-15,"strokeWidth":1.8,"color":"#222222"},"encoding":{"x2":{"field":"t2"}}},
     {"data":{"name":"br"},"transform":[{"filter":"datum.p=='E' && datum.k=='mm'"}],"mark":{"type":"text","fontSize":16,"baseline":"alphabetic","dy":2,"xOffset":26,"color":"#222222"},"encoding":{"text":{"field":"lab"}}}
    ]
   },
   {
    "width": 161, "height": 160,
    "title": {"text": "F", "offset": -36, "dx": -11},
    "resolve": {"scale": {"xOffset": "independent"}},
    "encoding": {
     "x": {"field":"t","type":"nominal","scale":{"domain":["Initial","Post"],"paddingInner":0.3,"paddingOuter":0.132},"axis":{"title":null,"labelAngle":0}},
     "y": {"field":"v","type":"quantitative","scale":{"domain":[0,0.5],"nice":false},"axis":{"title":"BMC (g)","values":[0,0.1,0.2,0.3,0.4,0.5],"format":".1f"}}
    },
    "layer": [
     {"data":{"name":"bars"},"transform":[{"filter":"datum.p=='F'"}],"mark":{"type":"bar","stroke":"#333333","strokeWidth":1.3},"encoding":{"xOffset":{"field":"s","type":"nominal","scale":{"domain":["Male","Female"],"paddingInner":0.333,"paddingOuter":0.123}},"fill":{"field":"s","type":"nominal","scale":{"domain":["Male","Female"],"range":["#ffffff","#8c8c8c"]},"legend":null}}},
     {"data":{"name":"pts"},"transform":[{"filter":"datum.p=='F' && datum.s=='Male'"}],"mark":{"type":"point","shape":"circle","filled":true,"size":50,"color":"#b3b3b3","opacity":1},"encoding":{"xOffset":{"field":"k","type":"nominal","scale":{"type":"point","domain":["M1","M2","M3","M4","M5","M6","M7","M8","M9","g1","g2","g3","g4","g5","g6","F1","F2","F3","F4","F5","F6","F7","F8","F9"],"padding":2.85}}}},
     {"data":{"name":"pts"},"transform":[{"filter":"datum.p=='F' && datum.s=='Female'"}],"mark":{"type":"point","shape":"M-1,-1L1,1M-1,1L1,-1","filled":false,"size":70,"color":"#1a1a1a","strokeWidth":1.2,"opacity":1},"encoding":{"xOffset":{"field":"k","type":"nominal","scale":{"type":"point","domain":["M1","M2","M3","M4","M5","M6","M7","M8","M9","g1","g2","g3","g4","g5","g6","F1","F2","F3","F4","F5","F6","F7","F8","F9"],"padding":2.85}}}},
     {"data":{"name":"bars"},"transform":[{"filter":"datum.p=='F'"}],"mark":{"type":"errorbar","ticks":{"size":9},"thickness":1.4},"encoding":{"xOffset":{"field":"s","type":"nominal","scale":{"domain":["Male","Female"],"paddingInner":0.333,"paddingOuter":0.123}},"yError":{"field":"e"},"color":{"field":"s","type":"nominal","scale":{"domain":["Male","Female"],"range":["#999999","#111111"]},"legend":null}}},
     {"data":{"name":"br"},"transform":[{"filter":"datum.p=='F' && datum.k=='mf'"}],"mark":{"type":"rule","xOffset":-15,"x2Offset":15,"strokeWidth":1.8,"color":"#222222"},"encoding":{"x2":{"field":"t2"}}},
     {"data":{"name":"br"},"transform":[{"filter":"datum.p=='F' && datum.k=='mf'"}],"mark":{"type":"text","fontSize":16,"baseline":"alphabetic","dy":2,"color":"#222222"},"encoding":{"text":{"field":"lab"}}},
     {"data":{"name":"br"},"transform":[{"filter":"datum.p=='F' && datum.k=='ff'"}],"mark":{"type":"rule","xOffset":15,"x2Offset":15,"strokeWidth":1.8,"color":"#222222"},"encoding":{"x2":{"field":"t2"}}},
     {"data":{"name":"br"},"transform":[{"filter":"datum.p=='F' && datum.k=='ff'"}],"mark":{"type":"text","fontSize":16,"baseline":"alphabetic","dy":2,"xOffset":56,"color":"#222222"},"encoding":{"text":{"field":"lab"}}}
    ]
   }
   ]
   }
   ]
  },
  {
   "resolve": {"scale": {"color": "independent", "fill": "independent", "stroke": "independent", "shape": "independent", "xOffset": "independent"}},
   "spacing": 71,
   "bounds": "flush",
   "hconcat": [
   {"width": 1, "height": 1, "data": {"values": [{}]}, "mark": {"type": "point", "opacity": 0}},
   {
   "resolve": {"scale": {"color": "independent", "fill": "independent", "stroke": "independent", "shape": "independent", "xOffset": "independent"}},
   "spacing": 102,
   "bounds": "flush",
   "hconcat": [
   {
    "width": 155, "height": 161,
    "title": {"text": "G", "offset": -22, "dx": -13},
    "resolve": {"scale": {"xOffset": "independent"}},
    "encoding": {
     "x": {"field":"t","type":"nominal","scale":{"domain":["Initial","Post"],"paddingInner":0.3,"paddingOuter":0.095},"axis":{"title":null,"labelAngle":0,"labelPadding":0,"labelFontSize":17}},
     "y": {"field":"v","type":"quantitative","scale":{"domain":[0,0.06],"nice":false},"axis":{"title":"BMD (mg/cm²)","values":[0,0.02,0.04,0.06],"format":".2f"}}
    },
    "layer": [
     {"data":{"name":"bars"},"transform":[{"filter":"datum.p=='G'"}],"mark":{"type":"bar","stroke":"#333333","strokeWidth":1.3},"encoding":{"xOffset":{"field":"s","type":"nominal","scale":{"domain":["Male","Female"],"paddingInner":0.333,"paddingOuter":0.123}},"fill":{"field":"s","type":"nominal","scale":{"domain":["Male","Female"],"range":["#ffffff","#8c8c8c"]},"legend":null}}},
     {"data":{"name":"pts"},"transform":[{"filter":"datum.p=='G' && datum.s=='Male'"}],"mark":{"type":"point","shape":"circle","filled":true,"size":50,"color":"#b3b3b3","opacity":1},"encoding":{"xOffset":{"field":"k","type":"nominal","scale":{"type":"point","domain":["M1","M2","M3","M4","M5","M6","M7","M8","M9","g1","g2","g3","g4","g5","g6","F1","F2","F3","F4","F5","F6","F7","F8","F9"],"padding":2.85}}}},
     {"data":{"name":"pts"},"transform":[{"filter":"datum.p=='G' && datum.s=='Female'"}],"mark":{"type":"point","shape":"M-1,-1L1,1M-1,1L1,-1","filled":false,"size":70,"color":"#1a1a1a","strokeWidth":1.2,"opacity":1},"encoding":{"xOffset":{"field":"k","type":"nominal","scale":{"type":"point","domain":["M1","M2","M3","M4","M5","M6","M7","M8","M9","g1","g2","g3","g4","g5","g6","F1","F2","F3","F4","F5","F6","F7","F8","F9"],"padding":2.85}}}},
     {"data":{"name":"bars"},"transform":[{"filter":"datum.p=='G'"}],"mark":{"type":"errorbar","ticks":{"size":9},"thickness":1.4},"encoding":{"xOffset":{"field":"s","type":"nominal","scale":{"domain":["Male","Female"],"paddingInner":0.333,"paddingOuter":0.123}},"yError":{"field":"e"},"color":{"field":"s","type":"nominal","scale":{"domain":["Male","Female"],"range":["#999999","#111111"]},"legend":null}}},
     {"data":{"name":"br"},"transform":[{"filter":"datum.p=='G' && datum.k=='mf'"}],"mark":{"type":"rule","xOffset":-15,"x2Offset":15,"strokeWidth":1.8,"color":"#222222"},"encoding":{"x2":{"field":"t2"}}},
     {"data":{"name":"br"},"transform":[{"filter":"datum.p=='G' && datum.k=='mf'"}],"mark":{"type":"text","fontSize":16,"baseline":"alphabetic","dy":2,"color":"#222222"},"encoding":{"text":{"field":"lab"}}},
     {"data":{"name":"br"},"transform":[{"filter":"datum.p=='G' && datum.k=='ff'"}],"mark":{"type":"rule","xOffset":15,"x2Offset":15,"strokeWidth":1.8,"color":"#222222"},"encoding":{"x2":{"field":"t2"}}},
     {"data":{"name":"br"},"transform":[{"filter":"datum.p=='G' && datum.k=='ff'"}],"mark":{"type":"text","fontSize":16,"baseline":"alphabetic","dy":2,"xOffset":56,"color":"#222222"},"encoding":{"text":{"field":"lab"}}}
    ]
   },
   {
    "width": 229, "height": 160,
    "title": {"text": "H", "offset": -28, "dx": -9},
    "resolve": {"scale": {"xOffset": "independent"}},
    "encoding": {
     "x": {"field":"t","type":"nominal","scale":{"domain":["BW","Lean","BMC","BMD"],"paddingInner":0.5,"paddingOuter":0.158,"align":0.263},"axis":{"title":null,"labelAngle":0,"labelPadding":0,"labelFontSize":17}},
     "y": {"field":"v","type":"quantitative","scale":{"domain":[80,133.7],"nice":false,"zero":false},"axis":{"title":"% Change","values":[80,90,100,110,120,130]}}
    },
    "layer": [
     {"data":{"values":[{}]},"mark":{"type":"rule","strokeDash":[2,2],"color":"#aaaaaa","strokeWidth":1},"encoding":{"x":{"value":0},"x2":{"value":"width"},"y":{"datum":100}}},
     {"data":{"name":"pts"},"transform":[{"filter":"datum.p=='H'"}],"mark":{"type":"point","filled":true,"size":40,"strokeWidth":1.2,"opacity":1},"encoding":{
       "xOffset":{"field":"k","type":"nominal","scale":{"type":"point","domain":["M1","M2","M3","M4","M5","M6","M7","M8","M9","g1","g2","g3","F1","F2","F3","F4","F5","F6","F7","F8","F9"],"padding":2}},
       "shape":{"field":"s","type":"nominal","scale":{"domain":["Male","Female"],"range":["circle","M-1,-1L1,1M-1,1L1,-1"]},"legend":{"orient":"top","direction":"horizontal","title":null,"symbolSize":100,"symbolStrokeWidth":1.5,"labelFontSize":15,"labelOffset":16,"columnPadding":10,"offset":24,"symbolOffset":11,"encode":{"symbols":{"update":{"fill":{"signal":"datum.value == 'Male' ? '#b3b3b3' : 'transparent'"},"stroke":{"signal":"datum.value == 'Male' ? 'transparent' : '#1a1a1a'"}}}}}},
       "fill":{"field":"s","type":"nominal","scale":{"domain":["Male","Female"],"range":["#b3b3b3","transparent"]},"legend":null},
       "stroke":{"field":"s","type":"nominal","scale":{"domain":["Male","Female"],"range":["transparent","#1a1a1a"]},"legend":null}}},
     {"data":{"name":"bars"},"transform":[{"filter":"datum.p=='H'"}],"mark":{"type":"tick","size":14,"thickness":1.6},"encoding":{"xOffset":{"field":"s","type":"nominal","scale":{"domain":["Male","Female"],"paddingInner":0,"paddingOuter":0}},"color":{"field":"s","type":"nominal","scale":{"domain":["Male","Female"],"range":["#777777","#111111"]},"legend":null}}},
     {"data":{"name":"bars"},"transform":[{"filter":"datum.p=='H'"}],"mark":{"type":"errorbar","ticks":{"size":8},"thickness":1.4},"encoding":{"xOffset":{"field":"s","type":"nominal","scale":{"domain":["Male","Female"],"paddingInner":0,"paddingOuter":0}},"yError":{"field":"e"},"color":{"field":"s","type":"nominal","scale":{"domain":["Male","Female"],"range":["#777777","#111111"]},"legend":null}}},
     {"data":{"name":"br"},"transform":[{"filter":"datum.p=='H' && datum.k=='mf'"}],"mark":{"type":"rule","xOffset":-9,"x2Offset":9,"strokeWidth":1.8,"color":"#222222"},"encoding":{"x2":{"field":"t2"}}},
     {"data":{"name":"br"},"transform":[{"filter":"datum.p=='H' && datum.k=='mf'"}],"mark":{"type":"text","fontSize":16,"baseline":"alphabetic","dy":2,"color":"#222222"},"encoding":{"text":{"field":"lab"}}},
     {"data":{"name":"br"},"transform":[{"filter":"datum.p=='H' && datum.k=='fs'"}],"mark":{"type":"text","fontSize":16,"baseline":"alphabetic","dy":9,"xOffset":7.5,"color":"#222222"},"encoding":{"text":{"field":"lab"}}}
    ]
   },
   {
    "width": 74, "height": 161,
    "title": {"text": "I", "offset": 4, "dy": -12, "dx": -13},
    "resolve": {"scale": {"xOffset": "independent"}},
    "encoding": {
     "x": {"field":"t","type":"nominal","scale":{"domain":["Fat"],"paddingInner":0,"paddingOuter":0.07},"axis":{"title":null,"labelAngle":0,"labelPadding":0,"labelFontSize":17}},
     "y": {"field":"v","type":"quantitative","scale":{"domain":[50,263],"nice":false,"zero":false},"axis":{"title":"% Change","values":[50,100,150,200,250]}}
    },
    "layer": [
     {"data":{"values":[{}]},"mark":{"type":"rule","strokeDash":[2,2],"color":"#aaaaaa","strokeWidth":1},"encoding":{"x":{"value":0},"x2":{"value":"width"},"y":{"datum":100}}},
     {"data":{"name":"pts"},"transform":[{"filter":"datum.p=='I' && datum.s=='Male'"}],"mark":{"type":"point","shape":"circle","filled":true,"size":40,"color":"#b3b3b3","opacity":1},"encoding":{"xOffset":{"field":"k","type":"nominal","scale":{"type":"point","domain":["M1","M2","M3","M4","M5","M6","M7","M8","M9","g1","g2","g3","g4","g5","g6","g7","F1","F2","F3","F4","F5","F6","F7","F8","F9"],"padding":4.25}}}},
     {"data":{"name":"pts"},"transform":[{"filter":"datum.p=='I' && datum.s=='Female'"}],"mark":{"type":"point","shape":"M-1,-1L1,1M-1,1L1,-1","filled":false,"size":45,"color":"#1a1a1a","strokeWidth":1.2,"opacity":1},"encoding":{"xOffset":{"field":"k","type":"nominal","scale":{"type":"point","domain":["M1","M2","M3","M4","M5","M6","M7","M8","M9","g1","g2","g3","g4","g5","g6","g7","F1","F2","F3","F4","F5","F6","F7","F8","F9"],"padding":4.25}}}},
     {"data":{"name":"bars"},"transform":[{"filter":"datum.p=='I'"}],"mark":{"type":"tick","size":20,"thickness":1.6},"encoding":{"xOffset":{"field":"s","type":"nominal","scale":{"domain":["Male","Female"],"paddingInner":0,"paddingOuter":0}},"color":{"field":"s","type":"nominal","scale":{"domain":["Male","Female"],"range":["#777777","#111111"]},"legend":null}}},
     {"data":{"name":"bars"},"transform":[{"filter":"datum.p=='I'"}],"mark":{"type":"errorbar","ticks":{"size":12},"thickness":1.4},"encoding":{"xOffset":{"field":"s","type":"nominal","scale":{"domain":["Male","Female"],"paddingInner":0,"paddingOuter":0}},"yError":{"field":"e"},"color":{"field":"s","type":"nominal","scale":{"domain":["Male","Female"],"range":["#777777","#111111"]},"legend":null}}},
     {"data":{"name":"br"},"transform":[{"filter":"datum.p=='I' && datum.k=='mf'"}],"mark":{"type":"rule","xOffset":-14,"x2Offset":20,"strokeWidth":1.8,"color":"#222222"},"encoding":{"x2":{"field":"t2"}}},
     {"data":{"name":"br"},"transform":[{"filter":"datum.p=='I' && datum.k=='mf'"}],"mark":{"type":"text","fontSize":16,"baseline":"alphabetic","dy":2,"xOffset":3,"color":"#222222"},"encoding":{"text":{"field":"lab"}}},
     {"data":{"name":"br"},"transform":[{"filter":"datum.p=='I' && datum.k=='ms'"}],"mark":{"type":"text","fontSize":16,"baseline":"alphabetic","dy":9,"xOffset":-16,"color":"#222222"},"encoding":{"text":{"field":"lab"}}}
    ]
   }
   ]
   }
   ]
  }
  ]
 }
 ]
}
]
}
